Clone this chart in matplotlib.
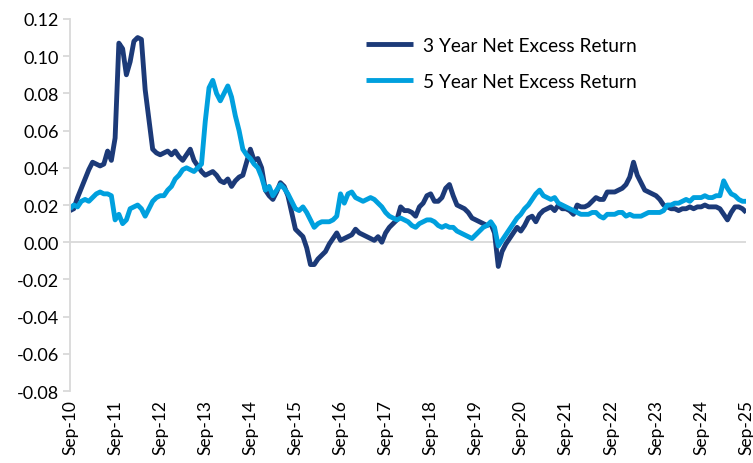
import matplotlib
matplotlib.use("Agg")
import matplotlib.pyplot as plt
from matplotlib.ticker import FormatStrFormatter

plt.rcParams['font.family'] = ['Lato', 'DejaVu Sans']

# Monthly series, Sep-10 .. Sep-25 (181 months)
three_year = [
    0.017, 0.018, 0.024, 0.029, 0.034, 0.039, 0.043, 0.042, 0.041, 0.042,
    0.049, 0.044, 0.056, 0.107, 0.104, 0.090, 0.097, 0.108, 0.110, 0.109,
    0.082, 0.066, 0.050, 0.048, 0.047, 0.048, 0.049, 0.047, 0.049, 0.046,
    0.044, 0.047, 0.050, 0.044, 0.041, 0.038, 0.036, 0.037, 0.038, 0.036,
    0.033, 0.032, 0.034, 0.030, 0.033, 0.035, 0.036, 0.043, 0.050, 0.044,
    0.045, 0.040, 0.028, 0.025, 0.023, 0.027, 0.032, 0.030, 0.025, 0.016,
    0.007, 0.005, 0.003, -0.003, -0.012, -0.012, -0.009, -0.007, -0.005, -0.001,
    0.002, 0.005, 0.001, 0.002, 0.003, 0.004, 0.007, 0.005, 0.004, 0.003,
    0.002, 0.001, 0.003, 0.000, 0.005, 0.008, 0.010, 0.012, 0.019, 0.017,
    0.017, 0.016, 0.014, 0.019, 0.021, 0.025, 0.026, 0.022, 0.022, 0.024,
    0.029, 0.031, 0.025, 0.020, 0.019, 0.018, 0.016, 0.013, 0.012, 0.011,
    0.010, 0.009, 0.010, 0.005, -0.013, -0.005, -0.001, 0.002, 0.005, 0.008,
    0.006, 0.009, 0.013, 0.014, 0.011, 0.015, 0.017, 0.018, 0.019, 0.017,
    0.020, 0.018, 0.018, 0.017, 0.015, 0.020, 0.019, 0.019, 0.020, 0.022,
    0.024, 0.023, 0.023, 0.027, 0.027, 0.027, 0.028, 0.029, 0.031, 0.035,
    0.043, 0.036, 0.032, 0.028, 0.027, 0.026, 0.025, 0.023, 0.020, 0.019,
    0.018, 0.018, 0.017, 0.018, 0.018, 0.019, 0.018, 0.019, 0.019, 0.020,
    0.019, 0.019, 0.019, 0.018, 0.015, 0.012, 0.016, 0.019, 0.019, 0.018,
    0.016,
]

five_year = [
    0.018, 0.020, 0.019, 0.022, 0.023, 0.022, 0.024, 0.026, 0.027, 0.026,
    0.026, 0.025, 0.012, 0.015, 0.010, 0.012, 0.018, 0.019, 0.020, 0.018,
    0.014, 0.018, 0.022, 0.024, 0.025, 0.025, 0.028, 0.030, 0.034, 0.036,
    0.039, 0.040, 0.039, 0.038, 0.040, 0.042, 0.065, 0.083, 0.087, 0.080,
    0.076, 0.080, 0.084, 0.078, 0.068, 0.060, 0.050, 0.047, 0.045, 0.042,
    0.040, 0.035, 0.028, 0.030, 0.025, 0.028, 0.031, 0.029, 0.026, 0.022,
    0.018, 0.017, 0.019, 0.016, 0.012, 0.008, 0.010, 0.011, 0.011, 0.011,
    0.012, 0.014, 0.026, 0.021, 0.026, 0.027, 0.024, 0.023, 0.022, 0.023,
    0.024, 0.023, 0.021, 0.019, 0.016, 0.014, 0.013, 0.012, 0.013, 0.012,
    0.011, 0.009, 0.008, 0.010, 0.011, 0.012, 0.012, 0.011, 0.009, 0.008,
    0.009, 0.008, 0.008, 0.006, 0.005, 0.004, 0.003, 0.002, 0.004, 0.006,
    0.008, 0.009, 0.011, 0.008, -0.002, 0.001, 0.004, 0.007, 0.010, 0.013,
    0.015, 0.018, 0.020, 0.023, 0.026, 0.028, 0.025, 0.024, 0.023, 0.024,
    0.021, 0.020, 0.019, 0.018, 0.017, 0.016, 0.015, 0.015, 0.015, 0.016,
    0.016, 0.014, 0.013, 0.015, 0.015, 0.015, 0.016, 0.016, 0.014, 0.015,
    0.014, 0.014, 0.014, 0.015, 0.016, 0.016, 0.016, 0.016, 0.017, 0.020,
    0.020, 0.021, 0.021, 0.022, 0.023, 0.022, 0.024, 0.024, 0.024, 0.025,
    0.024, 0.024, 0.025, 0.025, 0.033, 0.029, 0.026, 0.025, 0.023, 0.022,
    0.022,
]

tick_labels = ["Sep-10", "Sep-11", "Sep-12", "Sep-13", "Sep-14", "Sep-15",
               "Sep-16", "Sep-17", "Sep-18", "Sep-19", "Sep-20", "Sep-21",
               "Sep-22", "Sep-23", "Sep-24", "Sep-25"]

series_names = ["3 Year Net Excess Return", "5 Year Net Excess Return"]
colors = ["#1c3a78", "#00a0de"]

fig = plt.figure(figsize=(7.53, 4.64), dpi=100)
ax = fig.add_axes([0.093, 0.155, 0.898, 0.802])

months = list(range(len(three_year)))
ax.plot(months, three_year, color=colors[0], lw=3.5, label=series_names[0],
        solid_joinstyle='round', solid_capstyle='butt')
ax.plot(months, five_year, color=colors[1], lw=3.5, label=series_names[1],
        solid_joinstyle='round', solid_capstyle='butt')

ax.set_xlim(0, len(three_year) - 1)
ax.set_ylim(-0.08, 0.12)
ax.set_yticks([i * 0.02 for i in range(-4, 7)])
ax.yaxis.set_major_formatter(FormatStrFormatter('%.2f'))

ax.set_xticks([i * 12 for i in range(len(tick_labels))])
ax.set_xticklabels(tick_labels, rotation=90)

ax.axhline(0, color="#d9d9d9", lw=1.3, zorder=0)
for s in ["top", "right", "bottom"]:
    ax.spines[s].set_visible(False)
ax.spines["left"].set_color("#d9d9d9")
ax.spines["left"].set_linewidth(1.3)
ax.tick_params(axis="y", colors="#d9d9d9", labelcolor="#000000", length=5,
               width=1.3, labelsize=13, pad=3)
ax.tick_params(axis="x", length=0, labelsize=12.5, pad=6, labelcolor="#000000")

leg = ax.legend(loc="upper left", bbox_to_anchor=(0.426, 0.972), frameon=False,
                fontsize=13.8, handlelength=2.45, handletextpad=0.52,
                labelspacing=0.98, borderaxespad=0)

fig.savefig("out.png", dpi=100)
